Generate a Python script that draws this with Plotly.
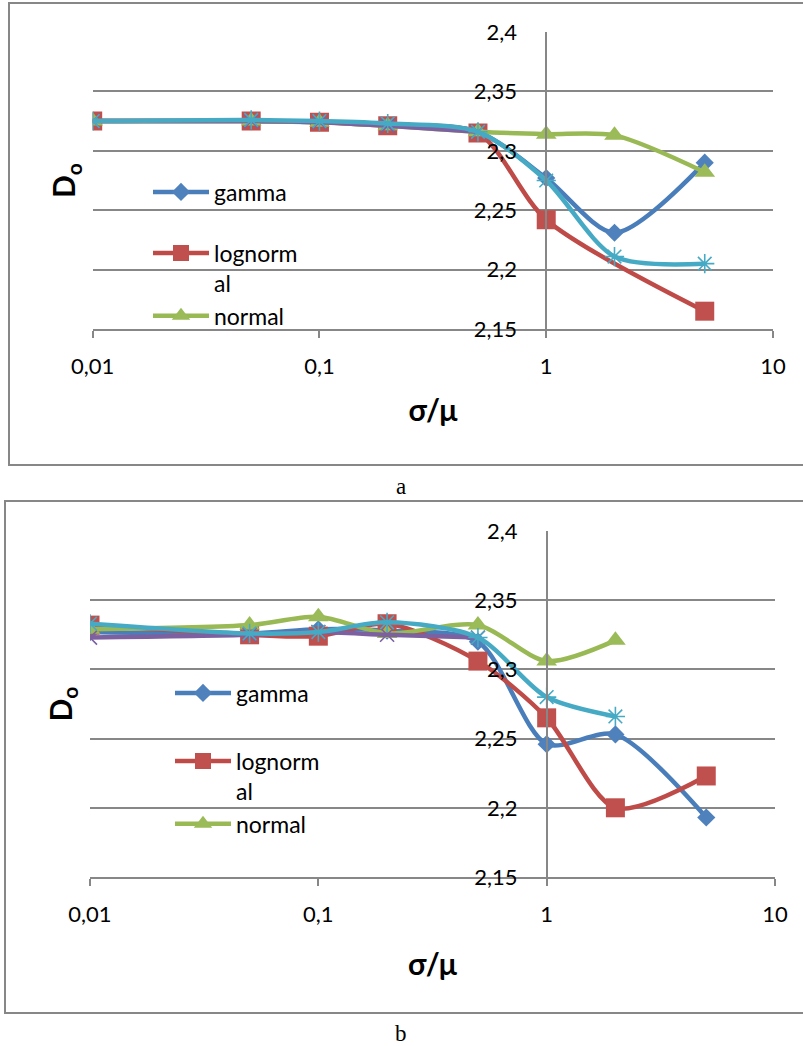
import plotly.graph_objects as go

# ---------------- data ----------------
x_vals = [0.01, 0.05, 0.1, 0.2, 0.5, 1, 2, 5]

a_gamma = [2.325, 2.325, 2.324, 2.322, 2.316, 2.277, 2.231, 2.290]
a_lognormal = [2.325, 2.325, 2.324, 2.321, 2.315, 2.242, None, 2.165]
a_normal = [2.325, 2.325, 2.324, 2.321, 2.316, 2.314, 2.313, 2.282]
a_series4 = [2.325, 2.325, 2.324, 2.321, 2.316, None, None, None]
a_series5 = [2.325, 2.326, 2.325, 2.323, 2.316, 2.275, 2.211, 2.205]

b_gamma = [2.327, 2.326, 2.329, 2.328, 2.320, 2.246, 2.253, 2.193]
b_lognormal = [2.332, 2.325, 2.324, 2.333, 2.306, 2.265, 2.200, 2.223]
b_normal = [2.329, 2.332, 2.338, 2.326, 2.332, 2.306, 2.321, None]
b_series4 = [2.323, 2.325, 2.327, 2.325, 2.323, None, None, None]
b_series5 = [2.333, 2.326, 2.327, 2.334, 2.323, 2.280, 2.266, None]

legend_labels = ["gamma", "lognorm<br>al", "normal"]
x_tickvals = [0.01, 0.1, 1, 10]
x_ticktext = ["0,01", "0,1", "1", "10"]
y_tickvals = [2.15, 2.2, 2.25, 2.3, 2.35, 2.4]
y_ticktext = ["2,15", "2,2", "2,25", "2,3", "2,35", "2,4"]
x_title = "<b>σ/μ</b>"
y_title = "<b>D<sub>o</sub></b>"
captions = ["a", "b"]

# ---------------- styling ----------------
W, H = 803, 1046
FONT = "Lato"
GRID = "#878787"
styles = [
    dict(line="#4A7EBB", marker="#4F81BD", symbol="diamond", size=14, lw=0),
    dict(line="#BE4B48", marker="#C0504D", symbol="square", size=19, lw=0),
    dict(line="#98B954", marker="#9BBB59", symbol="triangle-up", size=18, lw=0),
    dict(line="#7D60A0", marker="#7D60A0", symbol="x-thin-open", size=14, lw=1.6),
    dict(line="#46AAC5", marker="#46AAC5", symbol="asterisk-open", size=16, lw=1.6),
]


def px_x(x):
    return x / W


def px_y(y):
    return 1 - y / H


fig = go.Figure()

panels = [
    dict(series=[a_gamma, a_lognormal, a_normal, a_series4, a_series5],
         xa="x", ya="y", legends=["legend", "legend3", "legend3"], tag="a"),
    dict(series=[b_gamma, b_lognormal, b_normal, b_series4, b_series5],
         xa="x2", ya="y2", legends=["legend2", "legend4", "legend4"], tag="b"),
]

for p in panels:
    for i, (vals, st) in enumerate(zip(p["series"], styles)):
        show = i < 3
        fig.add_trace(go.Scatter(
            x=x_vals, y=vals,
            xaxis=p["xa"], yaxis=p["ya"],
            mode="lines+markers",
            name=legend_labels[i] if show else f"series{i+1}",
            showlegend=show,
            legend=p["legends"][i] if show else p["legends"][0],
            legendgroup=f"{p['tag']}{i}",
            connectgaps=True,
            line=dict(color=st["line"], width=4.5, shape="spline", smoothing=0.8),
            marker=dict(symbol=st["symbol"], size=st["size"], color=st["marker"],
                        line=dict(width=st["lw"], color=st["marker"])),
        ))

# panel geometry (pixels)
geo = {
    "a": dict(x0=92.7, x1=773, y0=32, y1=329, box=(9, 3, 465), cap=487,
              xstand=22, ystand=388, leg1=(148, 170.5), leg2=(148, 231.6), gap=0),
    "b": dict(x0=90, x1=775, y0=531, y1=877, box=(5, 501, 1013), cap=1033,
              xstand=28, ystand=392, leg1=(170, 671.5), leg2=(170, 739.6), gap=5),
}

layout = dict(
    width=W, height=H, autosize=False,
    margin=dict(l=0, r=0, t=0, b=0),
    paper_bgcolor="white", plot_bgcolor="white",
    font=dict(family=FONT, color="black"),
    annotations=[], shapes=[],
)

for key, axx, axy, legs in [("a", "xaxis", "yaxis", ("legend", "legend3")),
                            ("b", "xaxis2", "yaxis2", ("legend2", "legend4"))]:
    g = geo[key]
    xdom = [px_x(g["x0"]), px_x(g["x1"])]
    ydom = [px_y(g["y1"]), px_y(g["y0"])]
    layout[axx] = dict(
        domain=xdom, type="log", range=[-2, 1],
        anchor="y" if key == "a" else "y2",
        showline=True, linecolor=GRID, linewidth=1.5,
        ticks="outside", ticklen=7, tickcolor=GRID, tickwidth=1.5,
        tickvals=x_tickvals, ticktext=x_ticktext,
        showgrid=False, zeroline=False,
        tickfont=dict(family=FONT, size=22, color="black"),
        ticklabelstandoff=10, automargin=False,
        title=dict(text=x_title, standoff=g["xstand"],
                   font=dict(family=FONT, size=30, color="black")),
    )
    layout[axy] = dict(
        domain=ydom, range=[2.15, 2.4],
        anchor="free", position=xdom[0] + (xdom[1] - xdom[0]) * 2 / 3,
        showline=True, linecolor=GRID, linewidth=1.5,
        showgrid=True, gridcolor=GRID, gridwidth=1.5,
        tickvals=y_tickvals, ticktext=y_ticktext, ticks="",
        zeroline=False, automargin=False,
        tickfont=dict(family=FONT, size=22, color="black"),
        ticklabelstandoff=24,
        title=dict(text=y_title, standoff=g["ystand"],
                   font=dict(family=FONT, size=30, color="black")),
    )
    for leg, pos in zip(legs, (g["leg1"], g["leg2"])):
        layout[leg] = dict(
            x=px_x(pos[0]), y=px_y(pos[1]), xanchor="left", yanchor="top",
            valign="top", itemwidth=56, tracegroupgap=g["gap"],
            font=dict(family=FONT, size=23, color="black"),
            bgcolor="rgba(0,0,0,0)", borderwidth=0, traceorder="normal",
        )
    bx0, by0, by1 = g["box"]
    layout["shapes"].append(dict(
        type="rect", xref="paper", yref="paper",
        x0=px_x(bx0), x1=1.02, y0=px_y(by1), y1=px_y(by0),
        line=dict(color=GRID, width=2), fillcolor="rgba(0,0,0,0)", layer="below",
    ))
    layout["annotations"].append(dict(
        text=captions[0] if key == "a" else captions[1], xref="paper", yref="paper",
        x=px_x(401), y=px_y(g["cap"]), xanchor="center", yanchor="middle",
        showarrow=False,
        font=dict(family="Liberation Serif", size=23, color="black"),
    ))

fig.update_layout(**layout)
fig.write_html("out.html")
